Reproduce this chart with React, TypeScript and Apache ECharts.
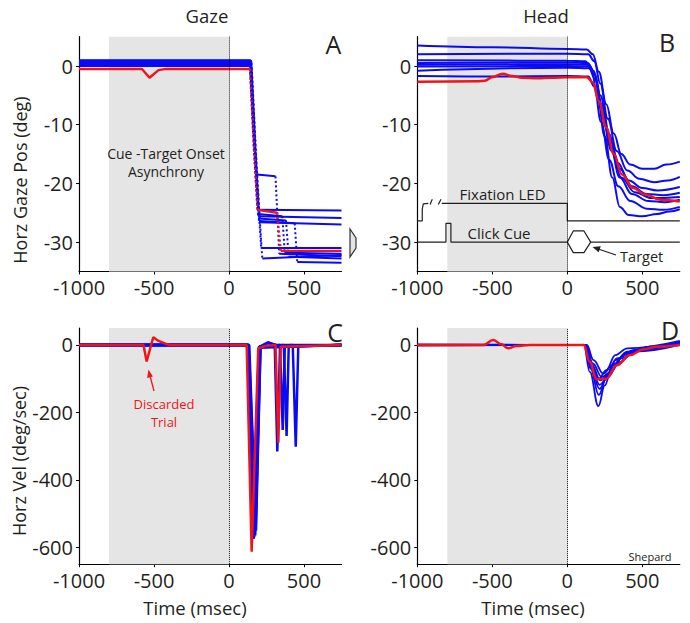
import React, { useEffect, useRef } from "react";
import * as echarts from "echarts";

type Pt = [number, number];

// ---------- axis ticks / ranges ----------
const timeTicks = [-1000, -500, 0, 500];
const posTicks = [-30, -20, -10, 0];
const velTicks = [-600, -400, -200, 0];
const timeRange = [-1000, 750];
const posRange = [-35, 5];
const velRange = [-650, 50];
const cueWindow = [-800, 0];

// ---------- Panel A: gaze position ----------
const gazePosBlue: Pt[][] = [
  [[-1000, 0.8], [140, 0.8], [165, -12], [185, -18.5], [310, -18.8], [335, -32], [750, -32.4]],
  [[-1000, 0.5], [138, 0.5], [165, -14], [190, -24.5], [750, -24.6]],
  [[-1000, 0.2], [142, 0.2], [170, -14], [195, -25.6], [750, -25.9]],
  [[-1000, 0], [145, 0], [172, -14], [200, -26.6], [750, -27]],
  [[-1000, 1.0], [145, 1.0], [180, -18], [215, -31], [750, -31]],
  [[-1000, 0.6], [150, 0.6], [185, -18], [222, -32.8], [750, -32.2]],
  [[-1000, 0.3], [145, 0.3], [170, -13], [195, -25.2], [355, -25.6], [372, -31.8], [750, -32]],
  [[-1000, 0.9], [148, 0.9], [175, -14], [200, -26], [380, -26.3], [398, -32.5], [750, -32.8]],
  [[-1000, 0.4], [150, 0.4], [178, -14], [205, -26.4], [438, -26.8], [455, -33.4], [750, -33.5]],
];
const gazePosRed: Pt[] = [
  [-1000, -0.5], [-580, -0.5], [-530, -2], [-470, -0.7], [-420, -0.5], [140, -0.5],
  [165, -13], [190, -24.5], [320, -25], [345, -31.5], [750, -31.5],
];

// ---------- Panel B: head position ----------
const headPosBlue: Pt[][] = [
  [[-1000, 3.5], [-500, 3.2], [0, 2.9], [130, 2.8], [170, 2.0], [210, -1], [260, -6.5], [310, -11.5], [360, -15], [420, -16.8], [500, -17.5], [580, -17.5], [660, -16.8], [750, -16.3]],
  [[-1000, 2.0], [0, 2.1], [140, 2.0], [180, 0.8], [220, -3], [270, -9], [330, -14.5], [400, -17.8], [480, -19.2], [580, -19.8], [670, -19.5], [750, -18.9]],
  [[-1000, 1.0], [0, 0.9], [120, 0.8], [160, -0.5], [200, -5], [250, -12], [300, -19], [350, -24], [410, -25.4], [500, -25.6], [600, -25.2], [680, -24.8], [750, -24.4]],
  [[-1000, 0.5], [0, 0.6], [135, 0.5], [175, -0.8], [220, -5], [275, -11.5], [335, -16.5], [410, -19.5], [500, -20.8], [600, -21.2], [750, -20.6]],
  [[-1000, 0.2], [0, 0.3], [145, 0.2], [185, -1.5], [230, -6.5], [290, -13], [350, -17.5], [430, -20.5], [530, -21.8], [640, -22], [750, -21.6]],
  [[-1000, -0.8], [0, -0.3], [145, -0.4], [185, -2.2], [235, -8], [295, -14.5], [360, -19], [450, -21.5], [560, -22.5], [750, -22.3]],
  [[-1000, -1.7], [-500, -1.8], [0, -1.7], [140, -1.8], [180, -3.5], [225, -9.5], [280, -16], [340, -20.5], [420, -23], [530, -24.3], [640, -24.5], [750, -24]],
  [[-1000, -0.1], [0, 0], [140, -0.1], [180, -1.5], [225, -6.5], [285, -13.5], [350, -19], [430, -21.8], [540, -23], [650, -23.2], [750, -22.8]],
];
const headPosRed: Pt[] = [
  [-1000, -2.7], [-600, -2.6], [-550, -2.5], [-500, -1.9], [-430, -1.3], [-370, -1.7], [-300, -2.0],
  [-200, -2.1], [-100, -2], [0, -1.9], [130, -1.9], [170, -2.8], [210, -6], [260, -10.5], [310, -15],
  [365, -18.5], [440, -20.8], [520, -21.9], [620, -22.8], [750, -23.1],
];

// schematic stimulus traces in panel B (deg units of that axis)
const fixationLed: Pt[][] = [
  [[-1000, -26.4], [-967, -26.4], [-967, -24.4], [-960, -23.5], [-927, -23.4]],
  [[-915, -23.6], [-900, -22.7]],
  [[-860, -23.6], [-842, -22.7]],
  [[-837, -23.4], [0, -23.4], [0, -26.4], [750, -26.4]],
];
const clickCue: Pt[][] = [
  [[-1000, -30], [-809, -30], [-809, -26.8], [-776, -26.8], [-776, -30], [0, -30]],
  [[0, -30], [40, -28.1], [111, -28.1], [156, -30], [111, -31.8], [40, -31.8], [0, -30]],
  [[156, -30], [750, -30]],
];

// ---------- Panel C: gaze velocity ----------
const gazeVelBlue: Pt[][] = [
  [[-1000, 0], [120, 0], [170, -560], [205, -5], [260, 8], [305, 0], [322, -316], [340, -5], [750, 0]],
  [[-1000, 0], [125, 0], [165, -575], [200, -8], [750, 0]],
  [[-1000, 0], [130, 0], [175, -565], [208, -6], [260, 6], [320, 0], [750, 0]],
  [[-1000, 0], [135, 0], [180, -550], [210, -5], [750, 0]],
  [[-1000, 0], [125, 0], [160, -540], [200, -5], [750, 0]],
  [[-1000, 0], [130, 0], [168, -570], [205, -5], [340, 0], [358, -252], [372, -3], [750, 0]],
  [[-1000, 0], [128, 0], [172, -555], [205, -5], [365, 0], [384, -270], [398, -3], [750, 0]],
  [[-1000, 0], [132, 0], [178, -545], [210, -5], [425, 0], [445, -302], [462, -3], [750, 0]],
];
const gazeVelRed: Pt[] = [
  [-1000, 0], [-570, 0], [-549, -49], [-505, 23], [-470, 12], [-420, 3], [-393, 0], [118, 0],
  [151, -613], [195, -10], [240, -3], [310, 0], [329, -290], [345, -5], [750, 0],
];

// ---------- Panel D: head velocity ----------
const headVelBlue: Pt[][] = [
  [[-1000, 0], [110, 0], [150, -80], [207, -181], [250, -120], [300, -60], [400, -25], [500, -10], [750, 5]],
  [[-1000, 2], [115, 0], [155, -70], [210, -148], [260, -100], [320, -45], [420, -20], [550, -5], [750, 8]],
  [[-1000, 0], [118, 0], [160, -70], [215, -130], [270, -90], [330, -40], [450, -15], [750, 10]],
  [[-1000, -2], [120, 0], [160, -65], [215, -118], [270, -95], [340, -55], [420, -25], [550, -5], [750, 5]],
  [[-1000, 0], [120, 0], [165, -60], [220, -105], [280, -85], [350, -50], [450, -20], [750, 0]],
  [[-1000, 0], [125, 0], [170, -55], [230, -95], [290, -80], [360, -40], [480, -15], [750, 8]],
  [[-1000, 0], [130, 0], [175, -45], [240, -85], [300, -60], [400, -20], [750, 10]],
  [[-1000, 0], [118, 0], [160, -60], [210, -100], [260, -75], [320, -30], [400, -10], [750, 12]],
];
const headVelRed: Pt[] = [
  [-1000, 0], [-560, 0], [-493, 15], [-440, 2], [-393, -10], [-340, -3], [-250, 0], [110, 0],
  [150, -50], [195, -102], [260, -100], [330, -60], [418, -30], [507, -13], [600, -5], [750, 0],
];

// ---------- styling ----------
const BLUE = "#0a0af5";
const RED = "#f21414";
const INK = "#231f20";
const FONT = '"Open Sans", "Noto Sans", sans-serif';

const grids = [
  { left: 79, top: 36.65, width: 262.5, height: 234.8 },
  { left: 417.3, top: 36.65, width: 262.5, height: 234.8 },
  { left: 79, top: 328.1, width: 262.5, height: 236.1 },
  { left: 417.3, top: 328.1, width: 262.5, height: 236.1 },
];

// split a position trace into slow (solid) parts and fast saccadic (dotted) parts
function splitBySpeed(data: Pt[], threshold: number) {
  const solid: (Pt | null)[] = [];
  const fast: (Pt | null)[] = [];
  for (let i = 0; i < data.length - 1; i++) {
    const a = data[i];
    const b = data[i + 1];
    const speed = Math.abs((b[1] - a[1]) / (b[0] - a[0]));
    const target = speed > threshold ? fast : solid;
    const other = speed > threshold ? solid : fast;
    const last = target[target.length - 1];
    if (!last || last[0] !== a[0] || last[1] !== a[1]) {
      if (target.length) target.push(null);
      target.push(a);
    }
    target.push(b);
    if (other.length && other[other.length - 1] !== null) other.push(null);
  }
  return { solid, fast };
}

function makeOption() {
  const labelFmt = (v: number) => String(v);
  const xAxis = grids.map((_, i) => ({
    type: "value",
    gridIndex: i,
    min: timeRange[0],
    max: timeRange[1],
    axisLine: { show: true, onZero: false, lineStyle: { color: "#000", width: 1.2 } },
    axisTick: { show: true, length: 3, customValues: timeTicks, lineStyle: { color: "#000" } },
    axisLabel: {
      customValues: timeTicks,
      formatter: labelFmt,
      fontSize: 20,
      lineHeight: 16,
      color: INK,
      fontFamily: FONT,
      margin: 8,
    },
    splitLine: { show: false },
  }));
  const yAxis = grids.map((_, i) => {
    const isPos = i < 2;
    const ticks = isPos ? posTicks : velTicks;
    const range = isPos ? posRange : velRange;
    return {
      type: "value",
      gridIndex: i,
      min: range[0],
      max: range[1],
      axisLine: { show: true, onZero: false, lineStyle: { color: "#000", width: 1.2 } },
      axisTick: { show: true, length: 3, customValues: ticks, lineStyle: { color: "#000" } },
      axisLabel: {
        customValues: ticks,
        formatter: labelFmt,
        fontSize: 20,
        lineHeight: 18,
        color: INK,
        fontFamily: FONT,
        margin: 6,
      },
      splitLine: { show: false },
    };
  });

  const series: any[] = [];
  grids.forEach((_, i) => {
    series.push({
      type: "line",
      xAxisIndex: i,
      yAxisIndex: i,
      data: [],
      z: 1,
      silent: true,
      markArea: {
        silent: true,
        itemStyle: { color: "#e6e5e6" },
        data: [[{ xAxis: cueWindow[0] }, { xAxis: cueWindow[1] }]],
      },
      markLine: {
        silent: true,
        symbol: ["none", "none"],
        label: { show: false },
        lineStyle: { type: "dotted", color: "#000", width: 1 },
        data: [{ xAxis: 0 }],
      },
    });
  });

  const trace = (
    g: number,
    data: (Pt | null)[],
    color: string,
    width: number,
    smooth: number | boolean,
    z: number,
    type: any = "solid"
  ) => ({
    type: "line",
    xAxisIndex: g,
    yAxisIndex: g,
    data: data.map((p) => (p === null ? [null, null] : p)),
    connectNulls: false,
    symbol: "none",
    showSymbol: false,
    smooth,
    smoothMonotone: "x",
    lineStyle: { color, width, type },
    emphasis: { disabled: true },
    silent: true,
    z,
  });

  const addGaze = (d: Pt[], color: string, width: number, z: number) => {
    const parts = splitBySpeed(d, 0.2);
    series.push(trace(0, parts.solid, color, width, false, z));
    series.push(trace(0, parts.fast, color, width, false, z, [2, 2.5]));
  };
  gazePosBlue.forEach((d) => addGaze(d, BLUE, 2, 3));
  addGaze(gazePosRed, RED, 2.4, 4);

  fixationLed.forEach((d) => series.push(trace(1, d, INK, 1.2, false, 2)));
  clickCue.forEach((d) => series.push(trace(1, d, INK, 1.2, false, 2)));
  headPosBlue.forEach((d) => series.push(trace(1, d, BLUE, 2, 0.4, 3)));
  series.push(trace(1, headPosRed, RED, 2.5, 0.4, 4));

  gazeVelBlue.forEach((d) => series.push(trace(2, d, BLUE, 2.5, false, 3)));
  series.push(trace(2, gazeVelRed, RED, 2.5, false, 4));

  headVelBlue.forEach((d) => series.push(trace(3, d, BLUE, 1.8, 0.4, 3)));
  series.push(trace(3, headVelRed, RED, 2.5, 0.4, 4));

  const txt = (text: string, x: number, y: number, size: number, color = INK, rotation = 0) => ({
    type: "text",
    x,
    y,
    rotation,
    z: 10,
    silent: true,
    style: {
      text,
      fill: color,
      font: `${size}px ${FONT}`,
      lineHeight: size,
      align: "center",
      verticalAlign: "middle",
    },
  });

  const graphic: any[] = [
    txt("Gaze", 207, 15, 18.5),
    txt("Head", 546, 15, 18.5),
    txt("A", 333.5, 43.5, 25),
    txt("B", 667, 42, 25),
    txt("C", 335, 332, 25),
    txt("D", 670, 330, 25),
    txt("Horz Gaze Pos (deg)", 20, 180, 18, INK, Math.PI / 2),
    txt("Horz Vel (deg/sec)", 19, 461, 18, INK, Math.PI / 2),
    txt("Time (msec)", 195, 607, 18.5),
    txt("Time (msec)", 533, 607, 18.5),
    txt("Cue -Target Onset", 166, 153, 14),
    txt("Asynchrony", 166, 171, 14),
    txt("Fixation LED", 502.5, 193.5, 15),
    txt("Click Cue", 499, 232.5, 15),
    txt("Target", 641.7, 256.5, 14.5),
    txt("Discarded", 164, 404, 13, RED),
    txt("Trial", 164, 422, 13, RED),
    txt("Shepard", 650, 556, 11),
    {
      type: "line",
      z: 10,
      silent: true,
      shape: { x1: 154, y1: 391, x2: 149.8, y2: 375 },
      style: { stroke: RED, lineWidth: 1.3 },
    },
    {
      type: "polygon",
      z: 10,
      silent: true,
      shape: { points: [[148.5, 369.5], [152.9, 376.5], [147.1, 378]] },
      style: { fill: RED },
    },
    {
      type: "line",
      z: 10,
      silent: true,
      shape: { x1: 616, y1: 255, x2: 599, y2: 249.2 },
      style: { stroke: INK, lineWidth: 1.2 },
    },
    {
      type: "polygon",
      z: 10,
      silent: true,
      shape: { points: [[592.5, 247], [600.8, 246.2], [598.6, 252.3]] },
      style: { fill: INK },
    },
    {
      type: "polygon",
      z: 10,
      silent: true,
      shape: { points: [[350, 229], [356, 238], [356, 248], [350, 257]] },
      style: { fill: "#e4e4e4", stroke: "#333", lineWidth: 1.2 },
    },
  ];

  return {
    animation: false,
    backgroundColor: "#ffffff",
    textStyle: { fontFamily: FONT },
    grid: grids.map((g) => ({ ...g, containLabel: false, outerBoundsMode: "none" })),
    xAxis,
    yAxis,
    series,
    graphic,
  };
}

export default function App() {
  const ref = useRef<HTMLDivElement>(null);
  useEffect(() => {
    if (!ref.current) return;
    const chart = echarts.init(ref.current, null, { renderer: "svg" });
    chart.setOption(makeOption() as any);
    return () => chart.dispose();
  }, []);
  return (
    <div
      ref={ref}
      style={{ position: "fixed", left: 0, top: 0, width: 690, height: 623, background: "#fff" }}
    />
  );
}
